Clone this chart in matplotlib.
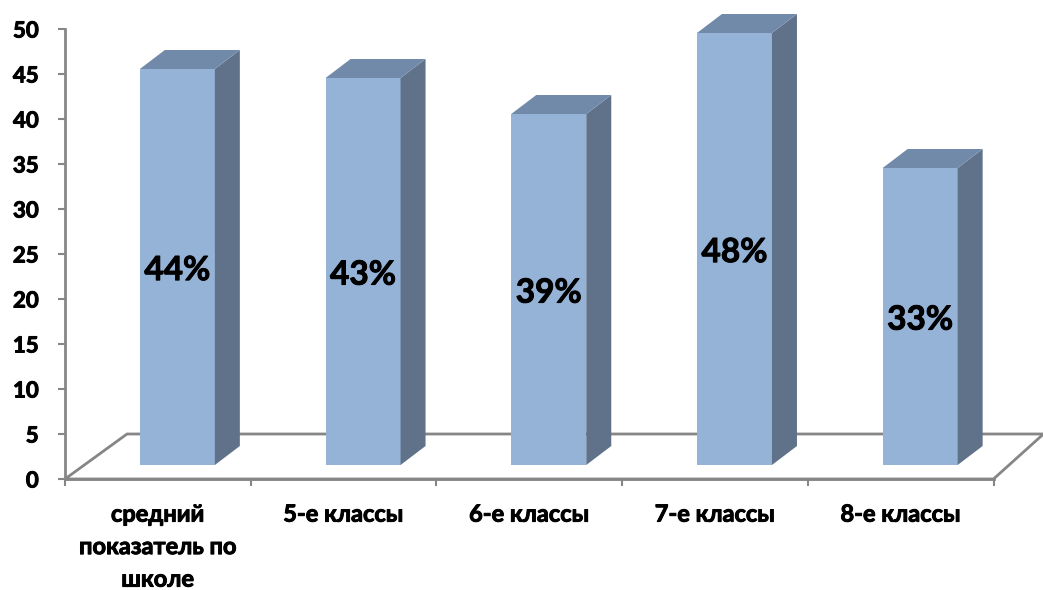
import matplotlib
matplotlib.use("Agg")
import matplotlib.pyplot as plt
from matplotlib.patches import Polygon
import matplotlib.patheffects as pe

categories = ["средний\nпоказатель по\nшколе", "5-е классы", "6-е классы", "7-е классы", "8-е классы"]
values = [44, 43, 39, 48, 33]
y_ticks = [0, 5, 10, 15, 20, 25, 30, 35, 40, 45, 50]

plt.rcParams['font.family'] = ['Lato', 'Open Sans', 'DejaVu Sans']
plt.rcParams['font.weight'] = 'bold'

W, H = 1043, 590
fig = plt.figure(figsize=(W / 100, H / 100), dpi=100)
ax = fig.add_axes([65 / W, 1 - 479 / H, 928.5 / W, 450 / H])
ax.set_xlim(0, 5)
ax.set_ylim(0, 50)

# глубина псевдо-3D в единицах данных
dx = 25 / 185.7
dy = 19 / 9
base = 14 / 9
bar_w = 75 / 185.7
shift = 19.5 / 185.7

# утолщение букв, шрифт без Calibri
heavy = [pe.withStroke(linewidth=0.7, foreground='black')]

# пол
floor_dx = 62 / 185.7
floor = Polygon([(0, 0), (floor_dx, 5), (5 + 50 / 185.7, 5), (5, 0)], closed=True,
                facecolor='white', edgecolor='#868686', lw=2, clip_on=False, zorder=1)
ax.add_patch(floor)

for i, v in enumerate(values):
    x0 = i + 0.5 + shift - bar_w / 2
    x1 = x0 + bar_w
    top = base + v
    ax.add_patch(Polygon([(x0, base), (x1, base), (x1, top), (x0, top)], facecolor='#95B3D7',
                         edgecolor='none', clip_on=False, zorder=3))
    ax.add_patch(Polygon([(x1, base), (x1 + dx, base + dy), (x1 + dx, top + dy), (x1, top)],
                         facecolor='#60718A', edgecolor='none', clip_on=False, zorder=3))
    ax.add_patch(Polygon([(x0, top), (x1, top), (x1 + dx, top + dy), (x0 + dx, top + dy)],
                         facecolor='#728AA9', edgecolor='none', clip_on=False, zorder=3))
    ax.text((x0 + x1) / 2, base + v / 2 - 0.4, f"{v}%", ha='center', va='center',
            fontsize=24, fontweight='bold', color='black', zorder=4, path_effects=heavy)

for s in ['top', 'right']:
    ax.spines[s].set_visible(False)
for s in ['left', 'bottom']:
    ax.spines[s].set_color('#868686')
    ax.spines[s].set_linewidth(2)
    ax.spines[s].set_zorder(2)

ax.set_yticks(y_ticks)
ax.set_xticks(range(6))
ax.set_xticklabels([])
ax.tick_params(axis='both', color='#868686', width=1.5, length=5)
ax.tick_params(axis='y', labelsize=16, pad=14)
for lab in ax.get_yticklabels():
    lab.set_path_effects(heavy)
for i, c in enumerate(categories):
    ax.annotate(c, xy=(i + 0.5, 0), xycoords='data', xytext=(0, -17), textcoords='offset points',
                ha='center', va='top', fontsize=17, fontweight='bold', linespacing=1.5,
                path_effects=heavy)

fig.savefig("out.png", dpi=100)
